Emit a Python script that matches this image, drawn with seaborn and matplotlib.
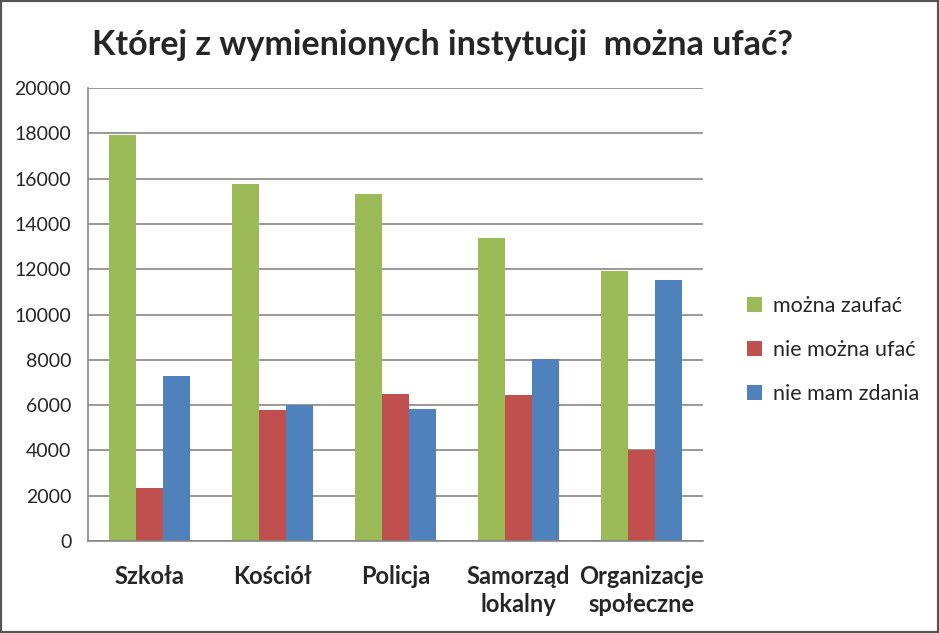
import pandas as pd
import seaborn as sns
import matplotlib.pyplot as plt
from matplotlib.patches import Rectangle

# dane
instytucje = ["Szkoła", "Kościół", "Policja", "Samorząd\nlokalny", "Organizacje\nspołeczne"]
odpowiedzi = ["można zaufać", "nie można ufać", "nie mam zdania"]
mozna_zaufac = [17920, 15760, 15320, 13360, 11940]
nie_mozna_ufac = [2350, 5800, 6490, 6450, 4010]
nie_mam_zdania = [7300, 5990, 5830, 8040, 11540]
kolory = ["#9BBB59", "#C0504D", "#4F81BD"]

df = pd.DataFrame({
    "instytucja": instytucje * 3,
    "odpowiedz": [odpowiedzi[0]] * 5 + [odpowiedzi[1]] * 5 + [odpowiedzi[2]] * 5,
    "liczba": mozna_zaufac + nie_mozna_ufac + nie_mam_zdania,
})

sns.set_style("white")
plt.rcParams["font.family"] = ["Lato", "DejaVu Sans"]

fig = plt.figure(figsize=(9.39, 6.33), dpi=100)
ax = fig.add_axes([88 / 939, 1 - 541 / 633, (703 - 88) / 939, (541 - 88) / 633])

sns.barplot(data=df, x="instytucja", y="liczba", hue="odpowiedz", hue_order=odpowiedzi,
            palette=kolory, width=0.66, saturation=1, linewidth=0, ax=ax, legend=True)

# osie
ax.set_ylim(0, 20000)
ax.set_yticks(range(0, 20001, 2000))
ax.set_xlim(-0.5, 4.5)
ax.set_xlabel("")
ax.set_ylabel("")
ax.yaxis.grid(True, color="#868686", linewidth=1.2)
ax.set_axisbelow(True)
for s in ["top", "right"]:
    ax.spines[s].set_visible(False)
for s in ["left", "bottom"]:
    ax.spines[s].set_color("#868686")
    ax.spines[s].set_linewidth(1.2)

ax.set_xticks(range(5))
ax.set_xticklabels(instytucje, fontsize=17, fontweight="bold", linespacing=1.3)
ax.set_xticks([i - 0.5 for i in range(6)], minor=True)
ax.tick_params(axis="x", which="major", length=0, pad=17)
ax.tick_params(axis="x", which="minor", length=6, color="#868686", width=1.2)
ax.tick_params(axis="y", length=6, color="#868686", width=1.2, labelsize=14, pad=6)

# legenda
h, l = ax.get_legend_handles_labels()
ax.get_legend().remove()
fig.legend(h, l, loc="center left", bbox_to_anchor=(728 / 939, 1 - 350 / 633), frameon=False,
           fontsize=15.5, handlelength=0.7, handleheight=0.7, handletextpad=0.5, labelspacing=1.1)

fig.text(92 / 939, 1 - 45 / 633, "Której z wymienionych instytucji  można ufać?",
         fontsize=24.5, fontweight="bold", va="center", ha="left")

fig.patches.append(Rectangle((0, 0), 1, 1, transform=fig.transFigure, fill=False,
                             edgecolor="#555555", linewidth=3))

fig.savefig("out.png", dpi=100)
